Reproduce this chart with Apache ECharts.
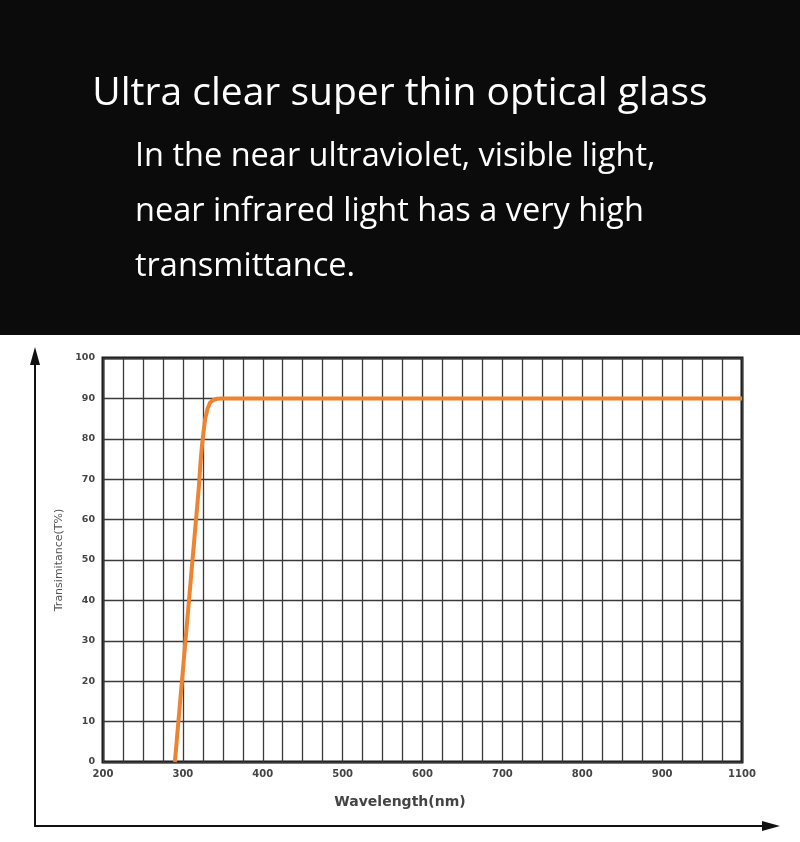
<!DOCTYPE html>
<html>
<head>
<meta charset="utf-8">
<script src="https://cdn.jsdelivr.net/npm/echarts@6/dist/echarts.min.js"></script>
<style>html,body{margin:0;padding:0;background:#fff;}#c{width:800px;height:842px;}</style>
</head>
<body>
<div id="c"></div>
<script>
const titleText = 'Ultra clear super thin optical glass';
const subLines = ['In the near ultraviolet, visible light,', 'near infrared light has a very high', 'transmittance.'];
const wavelength = [290, 320, 322, 324, 326, 328, 331, 334, 338, 343, 349, 1000];
const transmittance = [0, 68, 74, 78.5, 82, 85, 87.5, 88.9, 89.6, 89.92, 90, 90];
const xTickLabels = ['200', '300', '400', '500', '600', '700', '800', '900', '1100'];
const yTickLabels = ['0', '10', '20', '30', '40', '50', '60', '70', '80', '90', '100'];

const chart = echarts.init(document.getElementById('c'));
const gridLine = {show: true, lineStyle: {color: '#3a3a3a', width: 1.3}};
chart.setOption({
  backgroundColor: '#ffffff',
  animation: false,
  grid: {left: 103, top: 358, right: 58, bottom: 80, show: true, borderColor: '#1a1a1a', borderWidth: 3, backgroundColor: 'transparent'},
  xAxis: {
    type: 'value', min: 200, max: 1000, interval: 100,
    axisLine: {show: false}, axisTick: {show: false},
    splitLine: gridLine,
    minorTick: {show: false, splitNumber: 4},
    minorSplitLine: gridLine,
    axisLabel: {
      margin: 7, color: '#444', fontSize: 10, fontWeight: 'bold', fontFamily: 'DejaVu Sans',
      formatter: v => xTickLabels[Math.round((v - 200) / 100)]
    }
  },
  yAxis: {
    type: 'value', min: 0, max: 100, interval: 10,
    axisLine: {show: false}, axisTick: {show: false},
    splitLine: gridLine,
    name: 'Transimitance(T%)', nameLocation: 'middle', nameGap: 38, nameRotate: 90,
    nameTextStyle: {color: '#555', fontSize: 11, fontFamily: 'DejaVu Sans'},
    axisLabel: {
      margin: 8, color: '#444', fontSize: 9.5, fontWeight: 'bold', fontFamily: 'DejaVu Sans',
      formatter: v => yTickLabels[Math.round(v / 10)]
    }
  },
  series: [{
    type: 'line', data: wavelength.map((w, i) => [w, transmittance[i]]),
    showSymbol: false, smooth: false,
    lineStyle: {color: '#EE8431', width: 4, join: 'round'}, z: 5
  }],
  graphic: [
    {type: 'rect', shape: {x: 0, y: 0, width: 800, height: 335}, style: {fill: '#0b0b0b'}, z: -10},
    {type: 'text', x: 400, y: 94, style: {text: titleText, fill: '#fff', font: '39px "Open Sans"', textAlign: 'center', textVerticalAlign: 'middle'}},
    {type: 'text', x: 135, y: 157, style: {text: subLines[0], fill: '#fff', font: '32.5px "Open Sans"', textAlign: 'left', textVerticalAlign: 'middle'}},
    {type: 'text', x: 135, y: 212, style: {text: subLines[1], fill: '#fff', font: '32.5px "Open Sans"', textAlign: 'left', textVerticalAlign: 'middle'}},
    {type: 'text', x: 135, y: 267, style: {text: subLines[2], fill: '#fff', font: '32.5px "Open Sans"', textAlign: 'left', textVerticalAlign: 'middle'}},
    {type: 'text', x: 400, y: 802, style: {text: 'Wavelength(nm)', fill: '#444', font: 'bold 14px "DejaVu Sans"', textAlign: 'center', textVerticalAlign: 'middle'}},
    {type: 'line', shape: {x1: 35, y1: 358, x2: 35, y2: 826}, style: {stroke: '#111', lineWidth: 2}},
    {type: 'polygon', shape: {points: [[35, 347], [30, 365], [40, 365]]}, style: {fill: '#111'}},
    {type: 'line', shape: {x1: 34, y1: 826, x2: 768, y2: 826}, style: {stroke: '#111', lineWidth: 2}},
    {type: 'polygon', shape: {points: [[780, 826], [762, 821], [762, 831]]}, style: {fill: '#111'}}
  ]
});
</script>
</body>
</html>
